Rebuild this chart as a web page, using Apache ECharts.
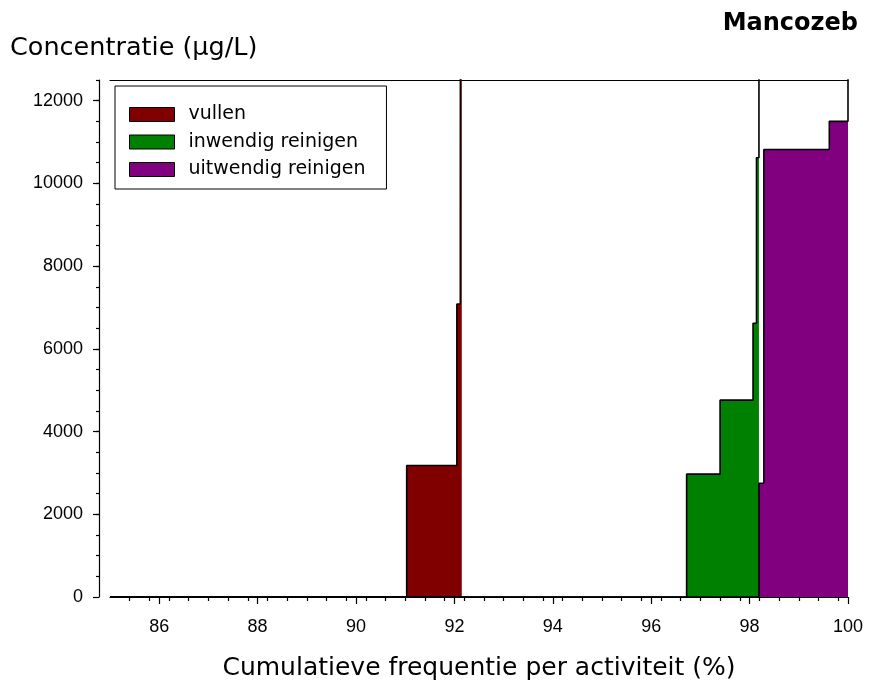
<!DOCTYPE html>
<html><head><meta charset="utf-8">
<script src="https://cdn.jsdelivr.net/npm/echarts@6/dist/echarts.min.js"></script>
<style>html,body{margin:0;padding:0;background:#fff}#c{width:869px;height:690px}</style>
</head><body><div id="c"></div>
<script>
const chartTitle = 'Mancozeb';
const yTitle = 'Concentratie (\u00b5g/L)';
const xTitle = 'Cumulatieve frequentie per activiteit (%)';
const seriesNames = ['vullen', 'inwendig reinigen', 'uitwendig reinigen'];
const seriesColors = ['#800000', '#008000', '#800080'];

// step points: x = cumulative frequency (%), y = concentration level held from x to the next x
const vullenX = [85, 91.03, 92.05, 92.12, 92.15];
const vullenY = [0, 3180, 7080, 8600, 100000];
const inwendigX = [85, 96.72, 97.40, 98.07, 98.14, 98.19];
const inwendigY = [0, 2970, 4760, 6620, 10620, 100000];
const uitwendigX = [85, 98.19, 98.29, 99.62, 100];
const uitwendigY = [0, 2750, 10820, 11500, 100000];

const xTickLabels = [86, 88, 90, 92, 94, 96, 98, 100];
const yTickLabels = [0, 2000, 4000, 6000, 8000, 10000, 12000];
const xMin = 85, xMax = 100, yMin = 0, yMax = 12500;

const xMinorTicks = [];
for (let i = 1; i <= 37; i++) xMinorTicks.push(Math.round((85 + i * 0.4) * 10) / 10);
const yMinorTicks = [];
for (let v = 500; v <= 12500; v += 500) yMinorTicks.push(v);

const zip = (xs, ys) => xs.map((x, i) => [x, ys[i]]);
const allX = [vullenX, inwendigX, uitwendigX];
const allY = [vullenY, inwendigY, uitwendigY];

const tickFont = { color: '#000', fontFamily: 'Liberation Sans', fontSize: 18, formatter: v => String(v) };
const black = { color: '#000', width: 1.2 };

const chart = echarts.init(document.getElementById('c'), null, { renderer: 'canvas' });
chart.setOption({
  animation: false,
  backgroundColor: '#fff',
  title: [
    { text: chartTitle, right: 11, top: 12, padding: 0,
      textStyle: { fontFamily: 'DejaVu Sans', fontWeight: 'bold', fontSize: 24, color: '#000' } },
    { text: yTitle, left: 10, top: 35, padding: 0,
      textStyle: { fontFamily: 'DejaVu Sans', fontWeight: 'normal', fontSize: 25.5, color: '#000' } }
  ],
  legend: {
    orient: 'vertical', left: 115, top: 86,
    padding: [19, 21, 10, 14],
    borderColor: '#000', borderWidth: 1, backgroundColor: '#fff',
    itemWidth: 45, itemHeight: 14, itemGap: 8.5,
    icon: 'rect',
    itemStyle: { borderColor: '#000', borderWidth: 1 },
    textStyle: { fontFamily: 'DejaVu Sans', fontSize: 19, color: '#000', lineHeight: 19, padding: [0, 0, 0, 9] },
    data: seriesNames.map((n, i) => ({ name: n, icon: 'rect', itemStyle: { color: seriesColors[i], borderColor: '#000', borderWidth: 1 } }))
  },
  grid: { left: 110, right: 21, top: 80, bottom: 93, outerBoundsMode: 'none' },
  xAxis: [
    { type: 'value', position: 'bottom', min: xMin, max: xMax,
      name: xTitle, nameLocation: 'middle', nameGap: 59,
      nameTextStyle: { fontFamily: 'DejaVu Sans', fontSize: 25, color: '#000' },
      axisLine: { show: true, onZero: false, lineStyle: black },
      axisTick: { show: true, customValues: xTickLabels, length: 7, lineStyle: black },
      axisLabel: { show: true, customValues: xTickLabels, margin: 21, ...tickFont },
      splitLine: { show: false }, minorTick: { show: false } },
    { type: 'value', position: 'bottom', min: xMin, max: xMax,
      axisLine: { show: false, onZero: false },
      axisTick: { show: true, customValues: xMinorTicks, length: 4, lineStyle: black },
      axisLabel: { show: false }, splitLine: { show: false } },
    { type: 'value', position: 'top', min: xMin, max: xMax,
      axisLine: { show: true, onZero: false, lineStyle: black },
      axisTick: { show: false }, axisLabel: { show: false }, splitLine: { show: false } }
  ],
  yAxis: [
    { type: 'value', position: 'left', offset: 11, min: yMin, max: yMax,
      axisLine: { show: true, onZero: false, lineStyle: black },
      axisTick: { show: true, customValues: yTickLabels, length: 6, lineStyle: black },
      axisLabel: { show: true, customValues: yTickLabels, margin: 16, ...tickFont },
      splitLine: { show: false } },
    { type: 'value', position: 'left', offset: 11, min: yMin, max: yMax,
      axisLine: { show: false, onZero: false },
      axisTick: { show: true, customValues: yMinorTicks, length: 3, lineStyle: black },
      axisLabel: { show: false }, splitLine: { show: false } }
  ],
  series: seriesNames.map((n, i) => ({
    name: n, type: 'line', step: 'end', xAxisIndex: 0, yAxisIndex: 0,
    color: seriesColors[i],
    data: zip(allX[i], allY[i]),
    showSymbol: false, symbol: 'none', clip: true,
    lineStyle: { color: '#000', width: 1.6 },
    itemStyle: { color: seriesColors[i] },
    areaStyle: { color: seriesColors[i], opacity: 1 },
    z: 2 + i
  }))
});
</script></body></html>
